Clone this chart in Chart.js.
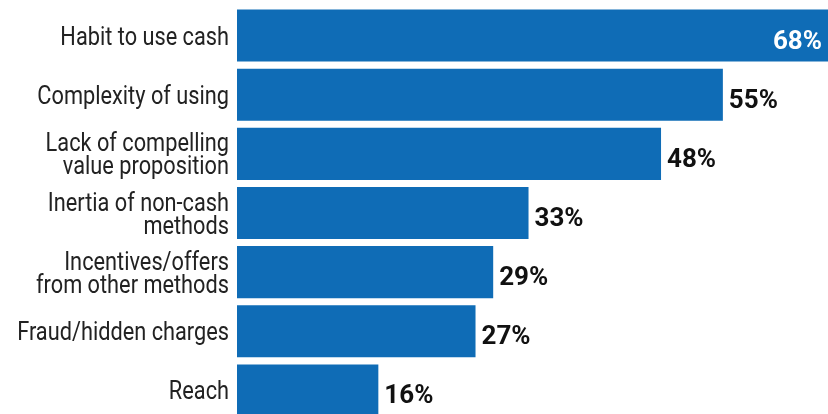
<!DOCTYPE html>
<html>
<head>
<meta charset="utf-8">
<script src="https://cdn.jsdelivr.net/npm/chart.js@4/dist/chart.umd.min.js"></script>
<style>
  html, body { margin: 0; padding: 0; background: #ffffff; overflow: hidden; }
  #wrap { position: relative; width: 828px; height: 420px; }
</style>
</head>
<body>
<div id="wrap"><canvas id="chart"></canvas></div>
<script>
// Reasons for preferring cash, share of respondents (%)
const categories = [
  ['Habit to use cash'],
  ['Complexity of using'],
  ['Lack of compelling', 'value proposition'],
  ['Inertia of non-cash', 'methods'],
  ['Incentives/offers', 'from other methods'],
  ['Fraud/hidden charges'],
  ['Reach']
];
const shares = [68, 55, 48, 33, 29, 27, 16];

const BAR_BLUE = '#0f6cb6';
const FONT = 'Roboto, "DejaVu Sans", sans-serif';
const LABEL_SQUEEZE = 0.87;   // horizontal compression giving a condensed face
const VALUE_SQUEEZE = 1.0;
const CAP = 18;               // cap height of the category labels
const LINE = 23;              // line spacing of two-line labels

// Draw text compressed horizontally, anchored at x with the given alignment
function squeezedText(ctx, text, x, y, align, sx) {
  const w = ctx.measureText(text).width * sx;
  const left = align === 'right' ? x - w : x;
  ctx.save();
  ctx.translate(left, y);
  ctx.scale(sx, 1);
  ctx.textAlign = 'left';
  ctx.fillText(text, 0, 0);
  ctx.restore();
  return w;
}

// Category labels to the left of the bars, right-aligned, placed at the y scale's tick positions
const categoryLabels = {
  id: 'categoryLabels',
  afterDraw(chart) {
    const ctx = chart.ctx;
    const yScale = chart.scales.y;
    const right = chart.chartArea.left - 8;
    ctx.save();
    ctx.font = '25px ' + FONT;
    ctx.fillStyle = '#222222';
    ctx.textBaseline = 'alphabetic';
    categories.forEach((lines, i) => {
      const cy = yScale.getPixelForTick(i);
      const top = cy - (CAP + (lines.length - 1) * LINE) / 2;
      lines.forEach((line, k) => {
        squeezedText(ctx, line, right, top + CAP + k * LINE, 'right', LABEL_SQUEEZE);
      });
    });
    ctx.restore();
  }
};

// Percentage labels at the end of each bar; bars running past the plot edge get the label inside in white
const valueLabels = {
  id: 'valueLabels',
  afterDatasetsDraw(chart) {
    const ctx = chart.ctx;
    const area = chart.chartArea;
    const meta = chart.getDatasetMeta(0);
    ctx.save();
    ctx.font = 'bold 26px ' + FONT;
    ctx.textBaseline = 'alphabetic';
    meta.data.forEach((bar, i) => {
      const text = shares[i] + '%';
      const w = ctx.measureText(text).width * VALUE_SQUEEZE;
      if (bar.x + 6 + w > area.right) {
        ctx.fillStyle = '#ffffff';
        squeezedText(ctx, text, Math.min(bar.x, area.right) - 6, bar.y + 13, 'right', VALUE_SQUEEZE);
      } else {
        ctx.fillStyle = '#111111';
        squeezedText(ctx, text, bar.x + 6, bar.y + 13, 'left', VALUE_SQUEEZE);
      }
    });
    ctx.restore();
  }
};

new Chart(document.getElementById('chart'), {
  type: 'bar',
  data: {
    labels: categories,
    datasets: [{
      data: shares,
      backgroundColor: BAR_BLUE,
      borderWidth: 0,
      barPercentage: 0.88,
      categoryPercentage: 1
    }]
  },
  options: {
    indexAxis: 'y',
    responsive: true,
    maintainAspectRatio: false,
    animation: false,
    layout: { padding: { top: 6, right: 0, bottom: 0, left: 0 } },
    plugins: {
      legend: { display: false },
      tooltip: { enabled: false }
    },
    scales: {
      x: {
        display: false,
        min: 0,
        max: 66.9
      },
      y: {
        afterFit(scale) {
          scale.width = 237;
          scale.paddingTop = 0;
          scale.paddingBottom = 0;
        },
        grid: { display: false, drawTicks: false },
        border: { display: false },
        ticks: { display: false }
      }
    }
  },
  plugins: [categoryLabels, valueLabels]
});
</script>
</body>
</html>
